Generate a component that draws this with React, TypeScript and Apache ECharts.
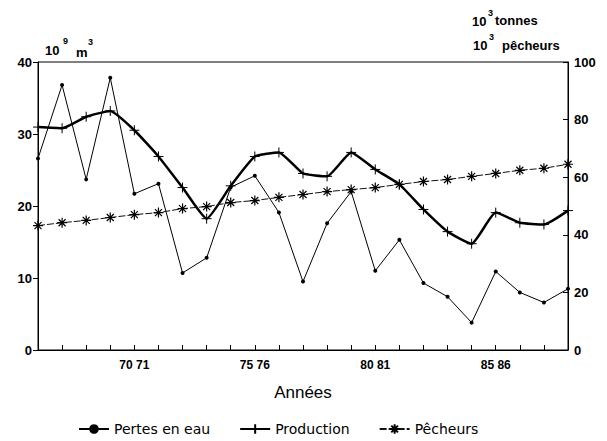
import React, { useEffect, useRef } from "react";
import * as echarts from "echarts";

const years = [
  "66 67", "67 68", "68 69", "69 70", "70 71", "71 72", "72 73", "73 74", "74 75", "75 76",
  "76 77", "77 78", "78 79", "79 80", "80 81", "81 82", "82 83", "83 84", "84 85", "85 86",
  "86 87", "87 88", "88 89",
];
const pertes = [26.6, 36.8, 23.7, 37.8, 21.7, 23.1, 10.7, 12.8, 22.6, 24.2, 19.1, 9.5, 17.6, 22, 11, 15.3, 9.3, 7.4, 3.8, 10.9, 8, 6.6, 8.5];
const production = [77.4, 77, 81, 83, 76.3, 67.2, 56.4, 45.6, 57, 67.2, 68.6, 61.3, 60.3, 68.6, 62.7, 57.5, 48.8, 41.1, 36.9, 47.7, 44.2, 43.6, 48.4];
const pecheurs = [43.2, 44.2, 45, 46, 47, 47.7, 49.1, 49.8, 51.2, 51.9, 53, 54, 55, 55.7, 56.4, 57.5, 58.5, 59.2, 60.3, 61.3, 62.4, 63.1, 64.5];
const leftTicks = { min: 0, max: 40, interval: 10 };
const rightTicks = { min: 0, max: 100, interval: 20 };
const labelIdx = [4, 9, 14, 19];

const FONT = "'Liberation Sans', Arial, sans-serif";
const LFONT = "'DejaVu Sans', sans-serif";
const plusSym = "path://M0,-5L0,5M-5,0L5,0";
const starSym = "path://M0,-5L0,5M-5,0L5,0M-3.5,-3.5L3.5,3.5M-3.5,3.5L3.5,-3.5";

export default function App() {
  const ref = useRef<HTMLDivElement>(null);
  useEffect(() => {
    document.body.style.margin = "0";
    const chart = echarts.init(ref.current!, null, { renderer: "svg" });
    const txt = (text: string, x: number, y: number, size: number, bold = true) => ({
      type: "text",
      x,
      y,
      style: { text, fontSize: size, fontWeight: bold ? "bold" : "normal", fontFamily: FONT, fill: "#000", textVerticalAlign: "middle" },
    });
    chart.setOption({
      animation: false,
      backgroundColor: "#fff",
      grid: { left: 38, right: 39, top: 62, bottom: 91, show: true, borderColor: "#000", borderWidth: 1 },
      legend: {
        top: 422,
        left: 78,
        padding: 0,
        itemWidth: 30,
        itemHeight: 12,
        itemGap: 29,
        textStyle: { fontSize: 14, fontFamily: LFONT, color: "#000" },
        data: ["Pertes en eau", "Production", "Pêcheurs"],
      },
      xAxis: {
        type: "category",
        data: years,
        boundaryGap: false,
        name: "Années",
        nameLocation: "middle",
        nameGap: 34,
        nameTextStyle: { fontSize: 17, fontFamily: FONT, color: "#000" },
        axisLine: { lineStyle: { color: "#000", width: 1 } },
        axisTick: { inside: true, length: 5, interval: 0, lineStyle: { color: "#000" } },
        axisLabel: {
          interval: (i: number) => labelIdx.indexOf(i) >= 0,
          fontSize: 12,
          fontWeight: "bold",
          fontFamily: FONT,
          color: "#000",
          margin: 9,
        },
        splitLine: { show: false },
      },
      yAxis: [
        {
          type: "value",
          ...leftTicks,
          position: "left",
          axisLine: { show: true, lineStyle: { color: "#000" } },
          axisTick: { show: true, length: 5, lineStyle: { color: "#000" } },
          axisLabel: { fontSize: 13, fontWeight: "bold", fontFamily: FONT, color: "#000", margin: 6 },
          splitLine: { show: false },
        },
        {
          type: "value",
          ...rightTicks,
          position: "right",
          axisLine: { show: true, lineStyle: { color: "#000" } },
          axisTick: { show: true, inside: true, length: 5, lineStyle: { color: "#000" } },
          axisLabel: { fontSize: 13, fontWeight: "bold", fontFamily: FONT, color: "#000", margin: 6 },
          splitLine: { show: false },
        },
      ],
      series: [
        {
          name: "Pertes en eau",
          type: "line",
          yAxisIndex: 0,
          data: pertes,
          symbol: "circle",
          symbolSize: 4,
          lineStyle: { color: "#000", width: 1 },
          itemStyle: { color: "#000" },
        },
        {
          name: "Production",
          type: "line",
          yAxisIndex: 1,
          data: production,
          smooth: 0.15,
          symbol: plusSym,
          symbolSize: 10,
          lineStyle: { color: "#000", width: 2.5 },
          itemStyle: { color: "#000", borderColor: "#000", borderWidth: 1 },
        },
        {
          name: "Pêcheurs",
          type: "line",
          yAxisIndex: 1,
          data: pecheurs,
          symbol: starSym,
          symbolSize: 10,
          lineStyle: { color: "#111", width: 1, type: [7, 2] },
          itemStyle: { color: "#000", borderColor: "#000", borderWidth: 1.2 },
        },
      ],
      graphic: [
        txt("10", 45, 50, 13),
        txt("9", 63, 41, 9),
        txt("m", 76, 52, 13),
        txt("3", 88, 42, 9),
        txt("10", 472, 21, 13),
        txt("3", 488, 13, 9),
        txt("tonnes", 495, 20, 13),
        txt("10", 473, 45, 13),
        txt("3", 489, 37, 9),
        txt("pêcheurs", 502, 45, 13),
      ],
    });
    return () => chart.dispose();
  }, []);
  return <div ref={ref} style={{ width: 607, height: 441 }} />;
}
